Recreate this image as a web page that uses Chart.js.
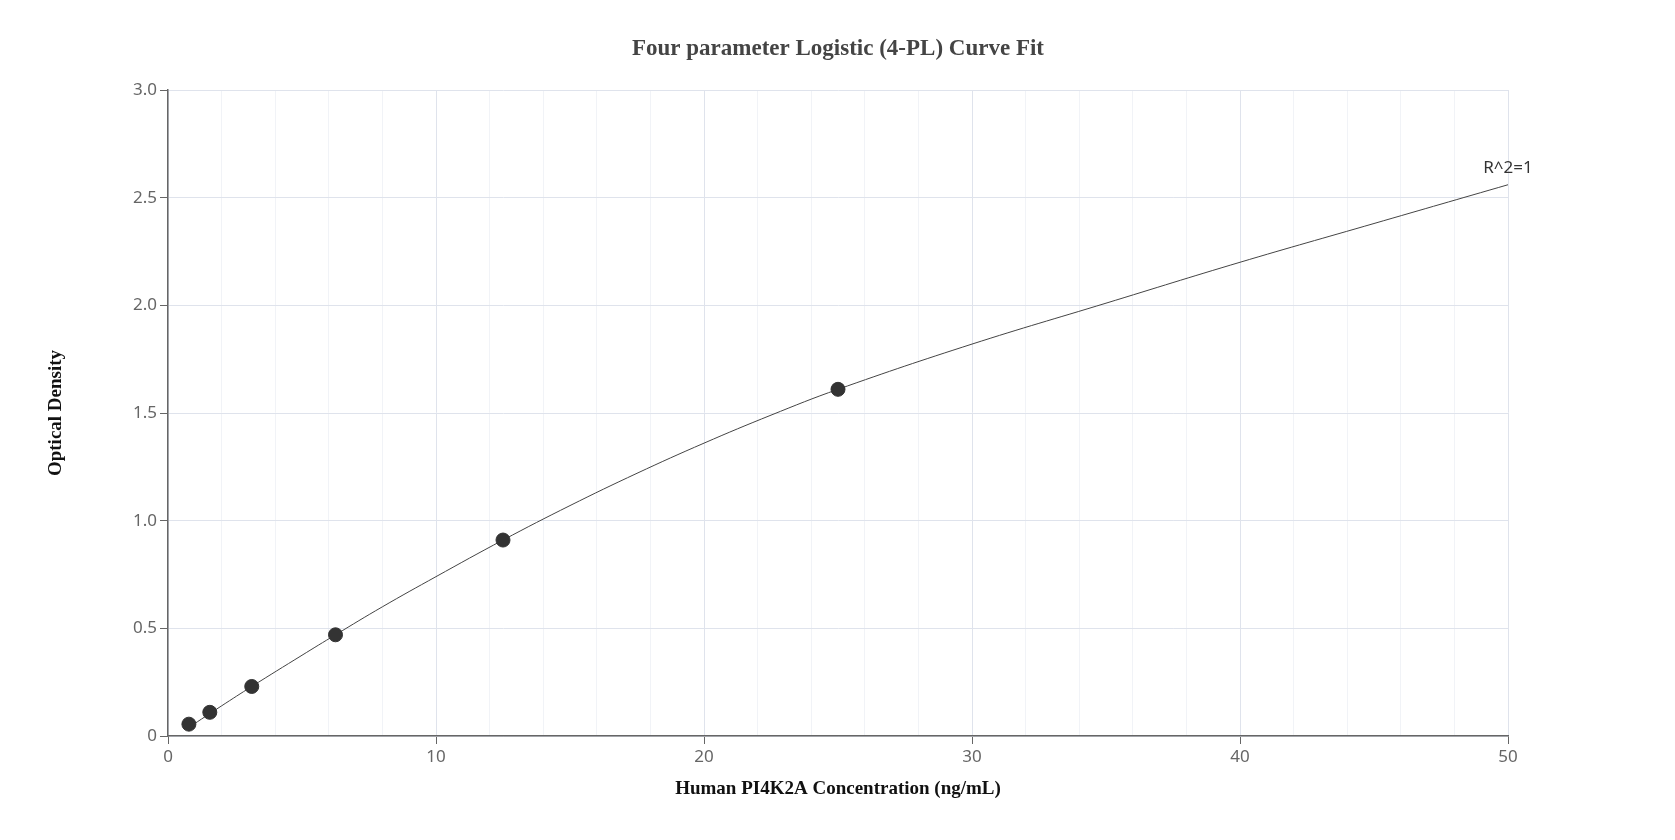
<!DOCTYPE html>
<html><head><meta charset="utf-8">
<script src="https://cdn.jsdelivr.net/npm/chart.js@4"></script>
<style>body{margin:0;background:#fff}#c{display:block}</style>
</head><body>
<canvas id="c" width="1675" height="840"></canvas>
<script>
// standards
const concX = [0.78, 1.56, 3.125, 6.25, 12.5, 25];
const odY = [0.055, 0.11, 0.23, 0.47, 0.91, 1.61];
// fitted curve
const fitX = [0.78, 2, 3.125, 5, 6.25, 8, 10, 12.5, 15, 17.5, 20, 22.5, 25, 30, 35, 40, 45, 50];
const fitY = [0.04, 0.14, 0.23, 0.375, 0.47, 0.6, 0.74, 0.91, 1.07, 1.22, 1.36, 1.49, 1.61, 1.82, 2.01, 2.2, 2.38, 2.56];

const grey = '#666';
const labels = {
  id: 'labels',
  afterDraw(chart){
    const c = chart.ctx, xs = chart.scales.x, ys = chart.scales.y;
    c.save();
    c.fillStyle = '#444';
    c.textAlign = 'center'; c.textBaseline = 'middle';
    c.font = 'bold 23px "Liberation Serif"';
    c.fillText('Four parameter Logistic (4-PL) Curve Fit', (xs.left+xs.right)/2, 49);
    c.fillStyle = '#111';
    c.font = 'bold 19px "Liberation Serif"';
    c.fillText('Human PI4K2A Concentration (ng/mL)', (xs.left+xs.right)/2, 789);
    c.translate(56, (ys.top+ys.bottom)/2); c.rotate(-Math.PI/2);
    c.fillText('Optical Density', 0, 0);
    c.restore();
    c.save();
    c.fillStyle = '#333'; c.font = '17px "Noto Sans"';
    c.textAlign = 'center'; c.textBaseline = 'bottom';
    c.fillText('R^2=1', xs.getPixelForValue(50), ys.getPixelForValue(fitY[fitY.length-1]) - 8);
    c.restore();
  }
};

new Chart('c', {
  type: 'scatter',
  data: {
    datasets: [{
      data: concX.map((x,i)=>({x:x, y:odY[i]})),
      backgroundColor: '#333', borderColor: '#333',
      pointRadius: 7, pointHoverRadius: 7
    },{
      type: 'line',
      data: fitX.map((x,i)=>({x:x, y:fitY[i]})),
      borderColor: '#444', borderWidth: 1, pointRadius: 0,
      tension: 0.4, fill: false
    }]
  },
  plugins: [labels],
  options: {
    responsive: false, animation: false,
    layout: {padding: {top: 90, right: 167, left: 0, bottom: 0}},
    plugins: {legend: {display: false}, tooltip: {enabled: false}},
    scales: {
      x: {
        type: 'linear', min: 0, max: 50,
        afterFit(s){ s.height = 104; },
        ticks: {stepSize: 2, autoSkip: false, color: grey, font: {size: 17, family: 'Noto Sans'},
          callback: v => v % 10 === 0 ? v : ''},
        grid: {color: ctx => ctx.tick && ctx.tick.value % 10 === 0 ? '#dfe3ec' : '#f1f3f7',
          tickColor: ctx => ctx.tick && ctx.tick.value % 10 === 0 ? grey : 'rgba(0,0,0,0)', tickLength: 8},
        border: {color: grey, width: 1.5}
      },
      y: {
        min: 0, max: 3,
        afterFit(s){ s.width = 168; },
        ticks: {stepSize: 0.5, color: grey, font: {size: 17, family: 'Noto Sans'}},
        grid: {color: '#dfe3ec', tickColor: grey, tickLength: 8},
        border: {color: grey, width: 1.5}
      }
    }
  }
});
</script>
</body></html>
